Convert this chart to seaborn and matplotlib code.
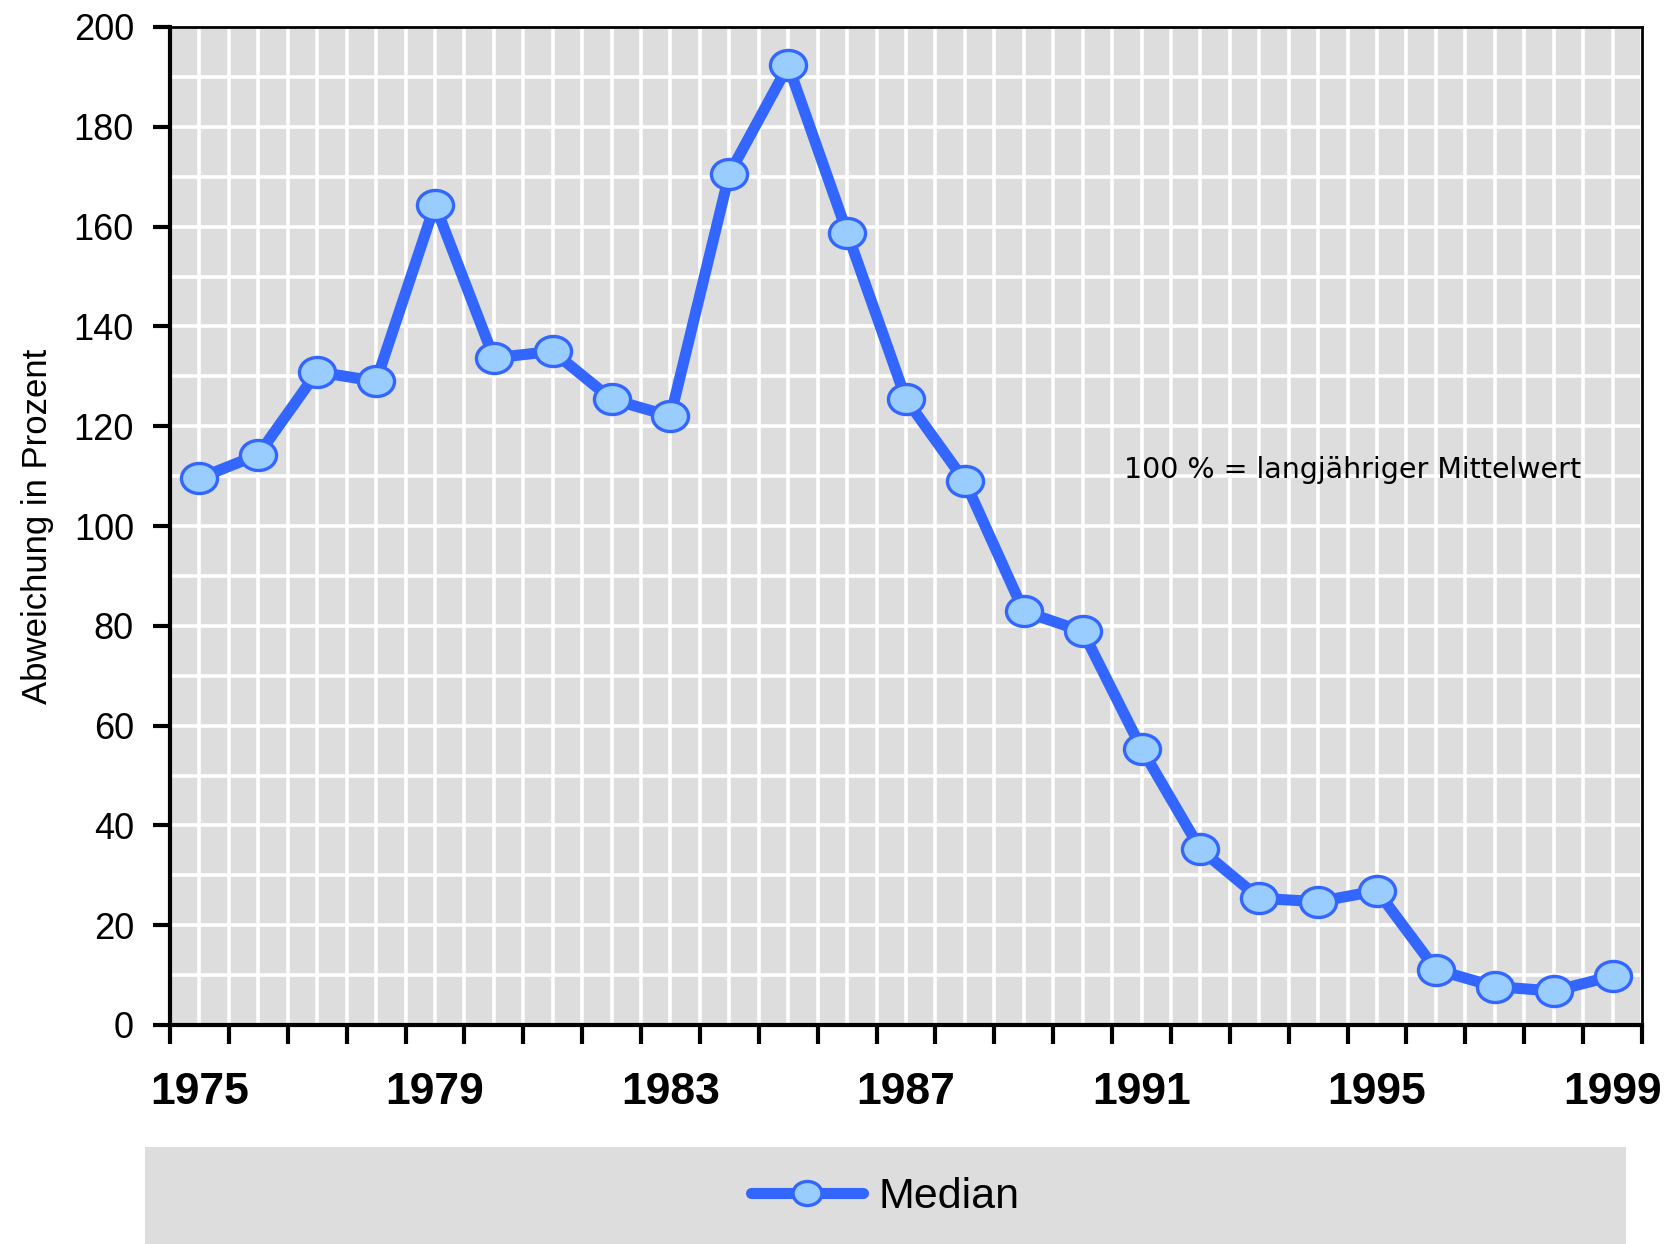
import numpy as np
import pandas as pd
import matplotlib
matplotlib.use("Agg")
import matplotlib.pyplot as plt
import seaborn as sns
from matplotlib.path import Path
from matplotlib.transforms import Affine2D
from matplotlib.patches import Rectangle
from matplotlib.ticker import MultipleLocator

# Data
years = [str(y) for y in range(1975, 2000)]
median = [109.6, 114.3, 130.9, 129.0, 164.4, 133.7, 135.0, 125.4, 122.0, 170.6,
          192.3, 158.8, 125.4, 109.0, 82.9, 78.9, 55.4, 35.2, 25.4, 24.7,
          26.9, 11.1, 7.7, 6.8, 9.8]
year_labels = ["1975", "1979", "1983", "1987", "1991", "1995", "1999"]

df = pd.DataFrame({"pos": np.arange(len(years)), "year": years, "median": median})

sns.set_style("white")
plt.rcParams['font.family'] = ['Liberation Sans', 'DejaVu Sans']
plt.rcParams.update({"text.color": "black", "axes.labelcolor": "black",
                     "xtick.color": "black", "ytick.color": "black"})

line_col = "#3366FF"
face_col = "#99CCFF"
ellipse = Affine2D().scale(1.2, 1.0).transform_path(Path.unit_circle())

fig = plt.figure(figsize=(16.7, 12.44), dpi=100)
ax = fig.add_axes([170 / 1670, 1 - 1025 / 1244, 1472 / 1670, 998 / 1244])
ax.set_facecolor("#DDDDDD")

# Gitter
for gx in np.arange(-0.5, len(years), 0.5):
    ax.axvline(gx, color="white", lw=2.6, zorder=0.5)
ax.yaxis.set_major_locator(MultipleLocator(20))
ax.yaxis.set_minor_locator(MultipleLocator(10))
ax.grid(axis="y", which="both", color="white", lw=2.6, zorder=0.5)
ax.set_axisbelow(True)

sns.lineplot(data=df, x="pos", y="median", ax=ax, color=line_col, lw=8,
             marker=ellipse, markersize=26, markerfacecolor=face_col,
             markeredgecolor=line_col, markeredgewidth=2.4, label="Median",
             legend=False, zorder=3)

ax.set_xlim(-0.5, len(years) - 0.5)
ax.set_ylim(0, 200)

# x-Achse: Striche an Jahresgrenzen, Beschriftung in der Mitte
ax.set_xticks(np.arange(-0.5, len(years), 1.0), minor=True)
ax.set_xticks([years.index(y) for y in year_labels], year_labels)
ax.tick_params(axis="x", which="major", length=0, pad=34, labelsize=32)
ax.tick_params(axis="x", which="minor", length=14, width=3, color="black",
               direction="out", bottom=True)
for lab in ax.get_xticklabels():
    lab.set_fontweight("bold")

ax.tick_params(axis="y", which="major", length=12, width=3, color="black",
               direction="out", left=True, labelsize=26, pad=14)
ax.tick_params(axis="y", which="minor", length=0)

ax.set_xlabel("")
ax.set_ylabel("Abweichung in Prozent", fontsize=25, labelpad=14)

for side in ["left", "bottom"]:
    ax.spines[side].set_linewidth(3)
    ax.spines[side].set_color("black")
for side in ["top", "right"]:
    ax.spines[side].set_linewidth(2)
    ax.spines[side].set_color("black")

ax.text(0.648, 0.556, "100 % = langjähriger Mittelwert", transform=ax.transAxes,
        fontsize=20.5, family="DejaVu Sans", va="center", ha="left")

# Legendenfeld
fig.patches.append(Rectangle((145 / 1670, 0), (1626 - 145) / 1670, 97 / 1244,
                             transform=fig.transFigure, facecolor="#DDDDDD",
                             edgecolor="none", zorder=0))
handles, labels = ax.get_legend_handles_labels()
fig.legend(handles, labels, loc="center", bbox_to_anchor=(885 / 1670, 1 - 1197 / 1244),
           frameon=False, fontsize=31, handlelength=2.6, handletextpad=0.35,
           markerscale=0.8)

fig.savefig("out.png", dpi=100)
